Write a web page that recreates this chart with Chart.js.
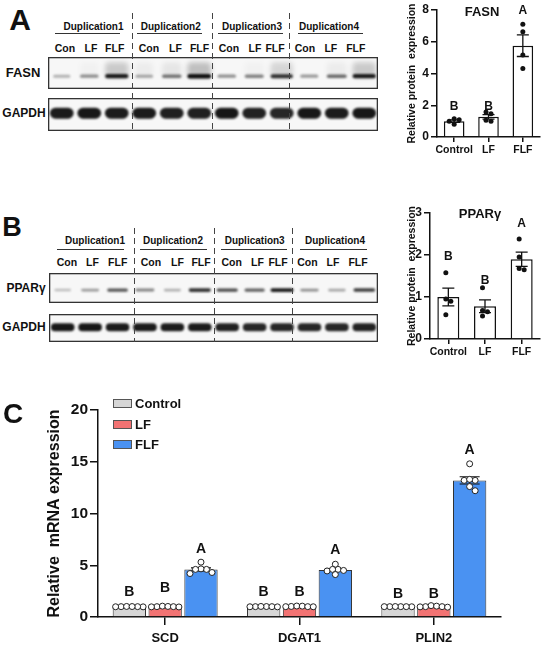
<!DOCTYPE html>
<html>
<head>
<meta charset="utf-8">
<script src="https://cdn.jsdelivr.net/npm/chart.js@4.4.1/dist/chart.umd.min.js"></script>
<style>
  html, body { margin:0; padding:0; background:#fff; }
  #fig { position:relative; width:550px; height:647px; overflow:hidden;
         font-family:"Liberation Sans", Arial, sans-serif; font-weight:bold; color:#111; }
  #fig canvas { position:absolute; }
  .t { position:absolute; white-space:nowrap; line-height:1; transform:translate(-50%,-50%); }
  .ul { position:absolute; height:1.2px; background:#333; }
  .dash { position:absolute; width:1.3px;
          background:repeating-linear-gradient(to bottom,#444 0 6px,transparent 6px 10px); }
  .key { position:absolute; width:17px; height:7px; border:1px solid #555; }
</style>
</head>
<body>
<div id="fig">
  <canvas id="blotA1" width="330" height="32" style="left:48px;top:57px"></canvas>
  <canvas id="blotA2" width="330" height="33" style="left:48px;top:98px"></canvas>
  <canvas id="blotB1" width="329" height="30" style="left:49px;top:273px"></canvas>
  <canvas id="blotB2" width="329" height="28" style="left:49px;top:314px"></canvas>
  <canvas id="fasn" width="170" height="170" style="left:380px;top:0px"></canvas>
  <canvas id="ppar" width="170" height="200" style="left:380px;top:170px"></canvas>
  <canvas id="mrna" width="550" height="287" style="left:0px;top:360px"></canvas>
</div>
<script>
// western blot lanes
var dupNames = ['Duplication1', 'Duplication2', 'Duplication3', 'Duplication4'];
var laneNames = ['Con', 'LF', 'FLF'];
// band darkness per lane (0..1)
var fasnBand  = [0.3, 0.45, 0.95, 0.35, 0.55, 1.0, 0.45, 0.5, 0.85, 0.4, 0.6, 0.95];
var fasnSmear = [0, 0.05, 0.4, 0.1, 0.15, 0.5, 0, 0.05, 0.3, 0, 0.1, 0.4];
var gapdhBandA = [0.95, 0.97, 0.95, 0.95, 0.93, 0.93, 0.97, 0.92, 0.9, 0.97, 0.95, 0.97];
var pparBand  = [0.25, 0.4, 0.7, 0.5, 0.3, 0.85, 0.75, 0.65, 0.95, 0.45, 0.35, 0.8];
var gapdhBandB = [0.97, 0.97, 0.95, 0.95, 0.95, 0.95, 0.93, 0.9, 0.9, 0.9, 0.9, 0.92];

// protein quantification
var groups = ['Control', 'LF', 'FLF'];
var fasnMean = [1.0, 1.27, 5.75];
var fasnSem  = [0.08, 0.14, 0.68];
var fasnPts  = [[1.15, 1.08, 1.0, 0.8], [1.58, 1.47, 1.05, 1.0], [7.1, 6.63, 5.16, 4.32]];
var fasnLetters = ['B', 'B', 'A'];
var fasnLetterY = [1.9, 1.9, 7.95];

var pparMean = [1.0, 0.78, 1.9];
var pparSem  = [0.21, 0.15, 0.17];
var pparPts  = [[1.58, 0.95, 0.9, 0.58], [1.22, 0.68, 0.65, 0.55], [2.38, 1.95, 1.68, 1.65]];
var pparLetters = ['B', 'B', 'A'];
var pparLetterY = [1.95, 1.4, 2.74];

// mRNA
var genes = ['SCD', 'DGAT1', 'PLIN2'];
var ctrlMean = [1.0, 1.0, 1.0];
var lfMean   = [1.0, 1.02, 1.0];
var flfMean  = [4.6, 4.55, 13.2];
var ctrlSem  = [0.02, 0.02, 0.02];
var lfSem    = [0.03, 0.03, 0.03];
var flfSem   = [0.15, 0.12, 0.35];
var ctrlPts = [[1.0, 1.02, 0.98, 1.0, 1.01, 0.99], [1.0, 1.01, 0.99, 1.0, 1.02, 0.98], [1.0, 1.0, 1.01, 0.99, 1.0, 1.0]];
var lfPts   = [[1.0, 1.05, 1.02, 0.98, 1.0, 0.97], [1.02, 1.06, 1.05, 1.0, 1.0, 0.99], [1.0, 1.1, 1.05, 1.0, 0.95, 0.98]];
var flfPts  = [[4.3, 4.6, 5.3, 4.65, 4.6, 4.2], [4.45, 4.6, 5.1, 4.6, 4.5, 4.1], [12.2, 13.2, 14.8, 13.2, 13.3, 12.6]];
var ctrlLetterY = [2.4, 2.4, 2.2];
var lfLetterY   = [2.8, 2.4, 2.2];
var flfLetterY  = [6.6, 6.5, 16.1];
var mrnaLetters = [['B', 'B', 'B'], ['B', 'B', 'B'], ['A', 'A', 'A']];

Chart.defaults.font.family = '"Liberation Sans", Arial, sans-serif';
Chart.defaults.font.weight = 'bold';
Chart.defaults.color = '#111';
Chart.defaults.animation = false;
Chart.defaults.events = [];
Chart.defaults.plugins.legend.display = false;
Chart.defaults.plugins.tooltip.enabled = false;

var fig = document.getElementById('fig');
function txt(s, x, y, size, left) {
  var d = document.createElement('div');
  d.className = 't';
  d.textContent = s;
  d.style.left = x + 'px';
  d.style.top = y + 'px';
  d.style.fontSize = size + 'px';
  if (left) d.style.transform = 'translate(0,-50%)';
  fig.appendChild(d);
  return d;
}
function box(cls, x, y, w, h) {
  var d = document.createElement('div');
  d.className = cls;
  d.style.left = x + 'px'; d.style.top = y + 'px';
  if (w) d.style.width = w + 'px';
  if (h) d.style.height = h + 'px';
  fig.appendChild(d);
  return d;
}

// bands drawn on each lane of the (invisible) bars
var bandPlugin = {
  id: 'bands',
  beforeDatasetsDraw: function (c) {
    var a = c.chartArea, ctx = c.ctx;
    ctx.save();
    ctx.fillStyle = '#f7f7f7';
    ctx.fillRect(a.left, a.top, a.width, a.height);
    ctx.restore();
  },
  afterDatasetsDraw: function (c, args, o) {
    var ctx = c.ctx, a = c.chartArea, ds = c.data.datasets[0], meta = c.getDatasetMeta(0);
    var yc = a.top + a.height * o.center;
    ctx.save();
    ctx.beginPath(); ctx.rect(a.left, a.top, a.width, a.height); ctx.clip();
    meta.data.forEach(function (el, i) {
      var lv = ds.data[i];
      var w = el.width * (o.thick ? 1 : 0.6 + 0.4 * lv);
      var h = o.height * (o.thick ? 1 : 0.6 + 0.5 * lv);
      if (ds.smear && ds.smear[i] > 0) {
        ctx.filter = 'blur(2.5px)';
        ctx.fillStyle = 'rgba(0,0,0,' + (ds.smear[i] * 0.45) + ')';
        ctx.beginPath();
        ctx.roundRect(el.x - w / 2, yc - 14, w, 15, 4);
        ctx.fill();
      }
      ctx.filter = 'blur(' + o.blur + 'px)';
      ctx.fillStyle = 'rgba(15,15,15,' + lv + ')';
      ctx.beginPath();
      ctx.roundRect(el.x - w / 2, yc - h / 2, w, h, h / 2);
      ctx.fill();
    });
    ctx.restore();
    ctx.save();
    ctx.strokeStyle = '#333';
    ctx.lineWidth = 1.3;
    ctx.strokeRect(a.left + 0.65, a.top + 0.65, a.width - 1.3, a.height - 1.3);
    ctx.restore();
  }
};

var lanes = [];
dupNames.forEach(function (d) { laneNames.forEach(function (l) { lanes.push(d + ' ' + l); }); });

function blot(id, levels, smear, o) {
  return new Chart(document.getElementById(id), {
    type: 'bar',
    data: { labels: lanes, datasets: [{ data: levels, smear: smear, backgroundColor: 'rgba(0,0,0,0)',
      barPercentage: 0.86, categoryPercentage: 1 }] },
    options: { responsive: false, layout: { padding: 0 },
      scales: { x: { display: false }, y: { display: false, min: 0, max: 1 } },
      plugins: { bands: o } },
    plugins: [bandPlugin]
  });
}
blot('blotA1', fasnBand, fasnSmear, { center: 0.6, height: 4, blur: 1 });
blot('blotA2', gapdhBandA, null, { center: 0.46, height: 11, blur: 1.2, thick: true });
blot('blotB1', pparBand, null, { center: 0.57, height: 3.5, blur: 0.9 });
blot('blotB2', gapdhBandB, null, { center: 0.47, height: 8, blur: 1, thick: true });

// put each dot over its bar, spreading overlapping dots sideways
var swarmPlugin = {
  id: 'swarm',
  afterDatasetsUpdate: function (c) {
    var labels = c.data.labels;
    c.data.datasets.forEach(function (ds, i) {
      if (!ds.swarm) return;
      var meta = c.getDatasetMeta(i), bars = c.getDatasetMeta(ds.barRef), byX = {};
      meta.data.forEach(function (el, j) {
        var k = labels.indexOf(ds.data[j].x);
        (byX[k] = byX[k] || []).push(el);
      });
      Object.keys(byX).forEach(function (k) {
        var base = bars.data[k].x;
        var els = byX[k].slice().sort(function (a, b) { return a.y - b.y; });
        var placed = [], d = ds.swarm, step = d / 2;
        els.forEach(function (el) {
          var off = 0;
          for (var n = 0; n < 40; n++) {
            var cand = n === 0 ? 0 : (n % 2 ? 1 : -1) * Math.ceil(n / 2) * step;
            var ok = placed.every(function (p) {
              var dx = p.o - cand, dy = p.y - el.y;
              return dx * dx + dy * dy >= d * d;
            });
            if (ok) { off = cand; break; }
          }
          placed.push({ o: off, y: el.y, el: el });
        });
        var offs = placed.map(function (p) { return p.o; });
        var sh = (Math.min.apply(null, offs) + Math.max.apply(null, offs)) / 2;
        placed.forEach(function (p) { p.el.x = base + p.o - sh; });
      });
    });
  }
};

// SEM bars and significance letters
var annotPlugin = {
  id: 'annot',
  afterDatasetDraw: function (c, args, o) {
    var ds = c.data.datasets[args.index];
    if (!ds.sem) return;
    var ctx = c.ctx, y = c.scales.y, cw = o.cap / 2;
    args.meta.data.forEach(function (el, j) {
      var m = ds.data[j], s = ds.sem[j], x = el.x;
      var y1 = y.getPixelForValue(m + s), y0 = y.getPixelForValue(m - s);
      ctx.save();
      ctx.strokeStyle = '#111';
      ctx.lineWidth = o.lw;
      ctx.beginPath();
      ctx.moveTo(x, y0); ctx.lineTo(x, y1);
      ctx.moveTo(x - cw, y1); ctx.lineTo(x + cw, y1);
      ctx.moveTo(x - cw, y0); ctx.lineTo(x + cw, y0);
      ctx.stroke();
      ctx.fillStyle = '#111';
      ctx.font = 'bold ' + o.font + 'px "Liberation Sans", Arial, sans-serif';
      ctx.textAlign = 'center';
      ctx.textBaseline = 'middle';
      ctx.fillText(ds.letters[j], x, y.getPixelForValue(ds.letterY[j]));
      ctx.restore();
    });
  }
};

function axisX(h, size, tick, pad) {
  return { grid: { drawOnChartArea: false, offset: false, tickLength: tick, color: '#111', lineWidth: 1.5 },
    border: { color: '#111', width: 1.5 },
    ticks: { font: { size: size }, color: '#111', padding: pad, maxRotation: 0, autoSkip: false },
    afterFit: function (s) { s.height = h; } };
}
function axisY(w, max, step, size, title, tsize, tick) {
  return { min: 0, max: max,
    ticks: { stepSize: step, font: { size: size }, color: '#111', padding: 2 },
    grid: { drawOnChartArea: false, tickLength: tick, color: '#111', lineWidth: 1.5 },
    border: { color: '#111', width: 1.5 },
    title: { display: true, text: title, font: { size: tsize }, color: '#111', padding: 0 },
    afterFit: function (s) { s.width = w; } };
}

function proteinChart(id, mean, sem, pts, letters, letterY, max, step, pad, yw, xh) {
  var scatter = [];
  pts.forEach(function (g, i) { g.forEach(function (v) { scatter.push({ x: groups[i], y: v }); }); });
  return new Chart(document.getElementById(id), {
    type: 'bar',
    data: { labels: groups, datasets: [
      { type: 'scatter', data: scatter, order: 0, swarm: 5, barRef: 1,
        pointRadius: 2.5, pointBackgroundColor: '#111', pointBorderColor: '#111', pointBorderWidth: 0 },
      { data: mean, sem: sem, letters: letters, letterY: letterY, order: 1,
        backgroundColor: '#fff', borderColor: '#111', borderWidth: 1.5,
        barPercentage: 0.6, categoryPercentage: 1 }
    ] },
    options: { responsive: false, layout: { padding: pad },
      scales: {
        x: axisX(xh, 10.5, 5, 2),
        y: axisY(yw, max, step, 12, 'Relative protein  expression', 10.5, 6)
      },
      plugins: { annot: { cap: 12, lw: 1.3, font: 12 } } },
    plugins: [swarmPlugin, annotPlugin]
  });
}
proteinChart('fasn', fasnMean, fasnSem, fasnPts, fasnLetters, fasnLetterY, 8, 2,
  { left: 26, right: 10, top: 10, bottom: 0 }, 31, 33);
proteinChart('ppar', pparMean, pparSem, pparPts, pparLetters, pparLetterY, 3, 1,
  { left: 26, right: 10, top: 43, bottom: 0 }, 24, 31);

// mRNA chart
var groupMeans = [ctrlMean, lfMean, flfMean];
var groupSems = [ctrlSem, lfSem, flfSem];
var groupPts = [ctrlPts, lfPts, flfPts];
var groupLetterY = [ctrlLetterY, lfLetterY, flfLetterY];
var groupColors = ['#d6d6d6', '#f27373', '#4a92f2'];
var mrnaSets = [];
groups.forEach(function (g, d) {
  var sc = [];
  groupPts[d].forEach(function (vals, i) {
    vals.forEach(function (v) { sc.push({ x: genes[i], y: v }); });
  });
  mrnaSets.push({ type: 'scatter', data: sc, order: 0, swarm: 5.5, barRef: 3 + d,
    pointRadius: 3, pointBackgroundColor: '#fff', pointBorderColor: '#222', pointBorderWidth: 1 });
});
groups.forEach(function (g, d) {
  mrnaSets.push({ label: g, data: groupMeans[d], sem: groupSems[d], letters: mrnaLetters[d],
    letterY: groupLetterY[d], order: 1, backgroundColor: groupColors[d], borderColor: '#333',
    borderWidth: 1, barPercentage: 0.93, categoryPercentage: 0.8 });
});
new Chart(document.getElementById('mrna'), {
  type: 'bar',
  data: { labels: genes, datasets: mrnaSets },
  options: { responsive: false, layout: { padding: { left: 45, right: 49, top: 50, bottom: 0 } },
    scales: {
      x: axisX(30, 13, 8, 6),
      y: axisY(53, 20, 5, 15.5, 'Relative  mRNA expression', 16, 8)
    },
    plugins: { annot: { cap: 20, lw: 1.2, font: 14 } } },
  plugins: [swarmPlugin, annotPlugin]
});

// labels around the blots
function header(h) {
  dupNames.forEach(function (n, i) {
    txt(n, h.dupX[i], h.y, 10);
    box('ul', h.lines[i][0], h.lineY, h.lines[i][1] - h.lines[i][0]);
  });
  h.laneX.forEach(function (x, i) { txt(laneNames[i % 3], x, h.laneY, 10.5); });
  h.dashX.forEach(function (x) { box('dash', x, h.dashY[0], 0, h.dashY[1] - h.dashY[0]); });
}
header({ y: 27, lineY: 33, laneY: 48, dupX: [93.5, 170.8, 252, 329],
  lines: [[55, 120], [137, 202], [218, 283], [298, 363]],
  laneX: [65, 91, 114.7, 149, 175.5, 199.5, 229, 255, 275, 305, 330.8, 355.8],
  dashX: [132, 212, 289], dashY: [13, 131] });
header({ y: 241, lineY: 249, laneY: 262, dupX: [95, 173, 254.7, 335],
  lines: [[57, 124], [140, 207], [221, 287], [300, 367]],
  laneX: [67, 92.5, 117.7, 151, 177.5, 201, 231.7, 257.5, 278, 307.5, 333, 358],
  dashX: [134, 214, 292], dashY: [228, 342] });

txt('FASN', 23, 72, 13);
txt('GAPDH', 24, 113, 12);
txt('PPARγ', 26, 288, 12);
txt('GAPDH', 24, 327, 12);
txt('FASN', 482, 11, 13);
txt('PPARγ', 480, 213, 13);
txt('A', 20, 20, 30);
txt('B', 12, 227, 27);
txt('C', 13, 414, 28);

// legend of panel C
groups.forEach(function (g, d) {
  var y = [403, 424, 444][d];
  var k = box('key', 113, y - 4);
  k.style.background = groupColors[d];
  txt(g, 135, y, 13, true);
});
</script>
</body>
</html>
